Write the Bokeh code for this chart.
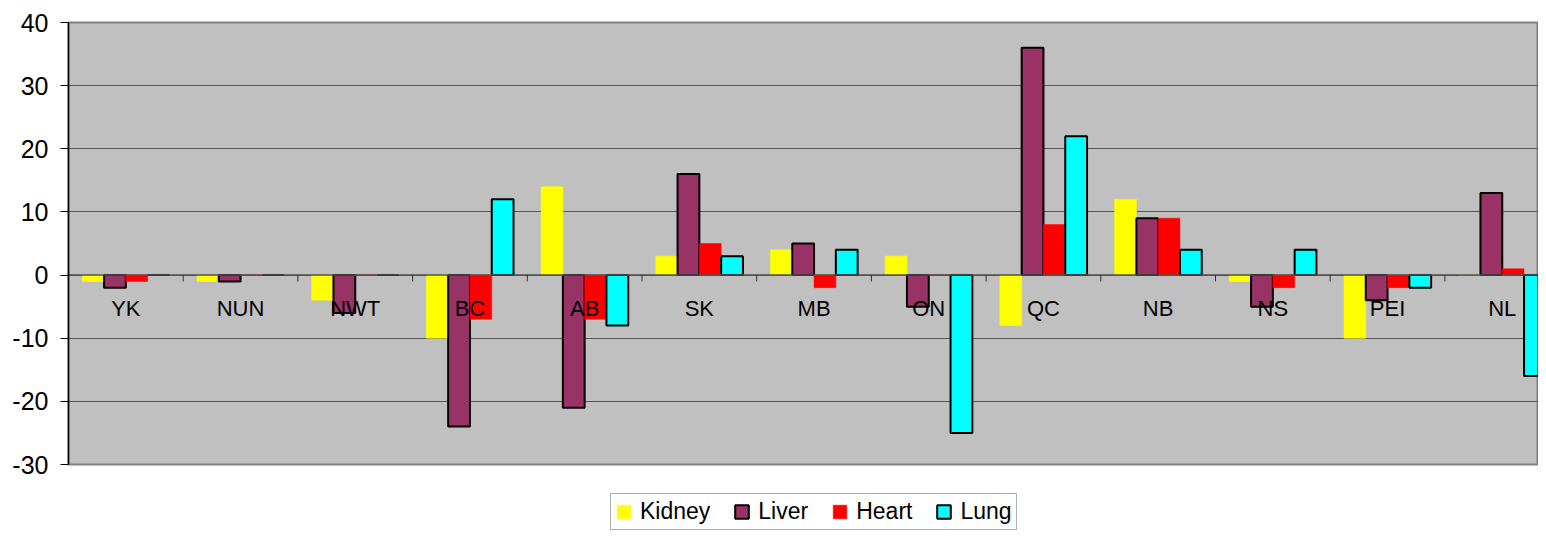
from bokeh.plotting import figure
from bokeh.layouts import column
from bokeh.models import Range1d, FixedTicker, Legend, LegendItem, ColumnDataSource
from bokeh.core.properties import value
from bokeh.embed import file_html
from bokeh.resources import INLINE

categories = ["YK", "NUN", "NWT", "BC", "AB", "SK", "MB", "ON", "QC", "NB", "NS", "PEI", "NL"]
kidney = [-1, -1, -4, -10, 14, 3, 4, 3, -8, 12, -1, -10, 0]
liver = [-2, -1, -6, -24, -21, 16, 5, -5, 36, 9, -5, -4, 13]
heart = [-1, 0, 0, -7, -7, 5, -2, 0, 8, 9, -2, -2, 1]
lung = [0, 0, 0, 12, -8, 3, 4, -25, 22, 4, 4, -2, -16]
y_ticks = [-30, -20, -10, 0, 10, 20, 30, 40]

series = [("Kidney", kidney, "#FFFF00", None),
          ("Liver", liver, "#993366", "black"),
          ("Heart", heart, "#FF0000", None),
          ("Lung", lung, "#00FFFF", "black")]

FONT = "Liberation Sans"
n = len(categories)
centers = [i + 0.5 for i in range(n)]
bw = 0.19
W = 1538

p = figure(width=W, height=478, output_backend="svg", toolbar_location=None,
           x_range=Range1d(0, 12.816), y_range=Range1d(-30, 40),
           x_axis_location=None,
           min_border_left=68, min_border_right=0, min_border_top=22, min_border_bottom=14)
p.background_fill_color = "#C0C0C0"
p.border_fill_color = "white"
p.outline_line_color = "#808080"
p.outline_line_width = 2

p.xgrid.visible = False
p.ygrid.grid_line_color = "#555555"
p.ygrid.grid_line_width = 1

ya = p.yaxis[0]
ya.ticker = FixedTicker(ticks=y_ticks)
ya.major_label_overrides = {t: str(t) for t in y_ticks}
ya.axis_line_color = "black"
ya.axis_line_width = 1.5
ya.major_tick_line_color = "black"
ya.major_tick_out = 8
ya.major_tick_in = 0
ya.minor_tick_line_color = None
ya.major_label_text_font = FONT
ya.major_label_text_font_size = "25px"
ya.major_label_text_color = "black"
ya.major_label_standoff = 12

# legend strip below the chart (its renderers share the data but lie outside its view)
lf = figure(width=W, height=53, output_backend="svg", toolbar_location=None,
            x_axis_location=None, y_axis_location=None,
            x_range=Range1d(-41, -40), y_range=Range1d(80, 81),
            min_border_left=0, min_border_right=0, min_border_top=0, min_border_bottom=0)
lf.outline_line_color = None
lf.grid.visible = False
lf.background_fill_color = "white"

items = []
for k, (name, vals, color, lc) in enumerate(series):
    off = (k - 1.5) * bw
    src = ColumnDataSource(dict(x=[c + off for c in centers], top=vals))
    style = dict(fill_color=color, line_color=lc if lc else color,
                 line_width=2 if lc else 0.5)
    p.vbar(x="x", top="top", bottom=0, width=bw, source=src, **style)
    twin = lf.vbar(x="x", top="top", bottom=0, width=bw, source=src, **style)
    items.append(LegendItem(label=name, renderers=[twin]))

# zero axis line with boundary ticks
p.segment(x0=[0], y0=[0], x1=[n], y1=[0], line_color="#505050", line_width=1.5)
p.segment(x0=list(range(1, n)), y0=[0] * (n - 1), x1=list(range(1, n)), y1=[-1] * (n - 1),
          line_color="#303030", line_width=1)

p.text(x=centers, y=[0] * n, text=categories, y_offset=33,
       text_align="center", text_baseline="middle",
       text_font=value(FONT), text_font_size="22px", text_color="black")

legend = Legend(items=items, orientation="horizontal", location=(542, 1))
legend.label_text_font = FONT
legend.label_text_font_size = "23px"
legend.label_text_color = "black"
legend.label_height = 17
legend.glyph_width = 17
legend.glyph_height = 17
legend.label_standoff = 8
legend.spacing = 23
legend.padding = 4
legend.margin = 0
legend.border_line_color = "#606060"
legend.border_line_width = 1.5
legend.background_fill_color = "white"
legend.background_fill_alpha = 1
lf.add_layout(legend, "center")

open("out.html", "w").write(file_html(column(p, lf), INLINE))
